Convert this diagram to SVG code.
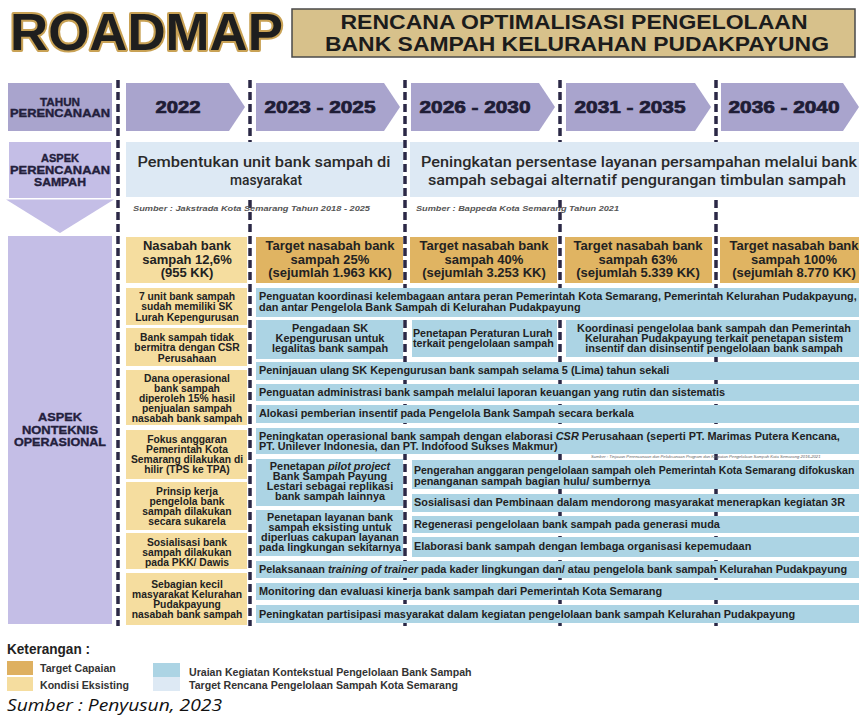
<svg xmlns="http://www.w3.org/2000/svg" width="859" height="724" viewBox="0 0 859 724">
<style>
.bt{font-family:"Liberation Sans",Arial,sans-serif;font-weight:700;fill:#222;font-size:10px}
.ys{font-family:"Liberation Sans",Arial,sans-serif;font-weight:700;fill:#222;font-size:10.3px;text-anchor:middle}
.lg{font-family:"Liberation Sans",Arial,sans-serif;font-weight:700;fill:#333;font-size:10.6px}
.mid{text-anchor:middle}
.hdr{font-family:"Liberation Sans",Arial,sans-serif;font-weight:700;fill:#23203c;stroke:#23203c;stroke-width:0.35;text-anchor:middle}
.yr{font-family:"Liberation Sans",Arial,sans-serif;font-weight:700;font-size:16px;fill:#1f1d36;stroke:#1f1d36;stroke-width:0.7;text-anchor:middle}
.r2{font-family:"Roboto","Liberation Sans",sans-serif;font-weight:500;font-size:15px;fill:#2a2a2a;text-anchor:middle}
.tg{font-family:"Liberation Sans",Arial,sans-serif;font-weight:700;font-size:13px;fill:#222;text-anchor:middle}
.src{font-family:"Liberation Sans",Arial,sans-serif;font-weight:700;font-style:italic;font-size:8px;fill:#555}
.dash{stroke:#2b2846;stroke-width:3.5;stroke-dasharray:8 4;fill:none}
.lav{fill:#a9a4cd}
.lav2{fill:#c4bee6}
.ye{fill:#f5dd9f}
.tan{fill:#e0b462}
.bl{fill:#acd4e4}
.lb{fill:#dde9f4}
</style>

<g id="title">
  <text x="10" y="50" font-family="Liberation Sans,Arial,sans-serif" font-weight="700" font-size="52" fill="#1e1e1e" stroke="#c9a255" stroke-width="4" stroke-linejoin="round" paint-order="stroke" textLength="273" lengthAdjust="spacingAndGlyphs">ROADMAP</text>
</g>
<g id="subtitle">
  <rect x="292" y="9" width="563" height="48" fill="#d7c18b" stroke="#4a4a4a" stroke-width="1.5"/>
  <text x="574" y="29" font-family="Liberation Sans,Arial,sans-serif" font-weight="700" font-size="20" fill="#1c1c1c" text-anchor="middle" textLength="467" lengthAdjust="spacingAndGlyphs">RENCANA OPTIMALISASI PENGELOLAAN</text>
  <text x="577" y="51" font-family="Liberation Sans,Arial,sans-serif" font-weight="700" font-size="20" fill="#1c1c1c" text-anchor="middle" textLength="504" lengthAdjust="spacingAndGlyphs">BANK SAMPAH KELURAHAN PUDAKPAYUNG</text>
</g>

<g id="connectors">
  <line class="dash" x1="118" y1="80" x2="118" y2="626"/>
  <line class="dash" x1="250" y1="80" x2="250" y2="626"/>
  <line class="dash" x1="405" y1="80" x2="405" y2="626"/>
  <line class="dash" x1="560" y1="80" x2="560" y2="626"/>
  <line class="dash" x1="716" y1="80" x2="716" y2="626"/>
</g>

<g id="tahun">
  <rect class="lav" x="8" y="83" width="104" height="48"/>
  <text class="hdr" x="60" y="105.5" font-size="10.5" textLength="40" lengthAdjust="spacingAndGlyphs">TAHUN</text>
  <text class="hdr" x="60" y="117" font-size="10.5" textLength="100" lengthAdjust="spacingAndGlyphs">PERENCANAAN</text>
</g>
<g id="y2022"><polygon class="lav" points="126,83 229,83 245,107 229,131 126,131"/><text class="yr" x="178" y="113" textLength="45" lengthAdjust="spacingAndGlyphs">2022</text></g>
<g id="y2023"><polygon class="lav" points="256,83 384,83 400,107 384,131 256,131"/><text class="yr" x="320" y="113" textLength="111" lengthAdjust="spacingAndGlyphs">2023 - 2025</text></g>
<g id="y2026"><polygon class="lav" points="411,83 539,83 555,107 539,131 411,131"/><text class="yr" x="475" y="113" textLength="111" lengthAdjust="spacingAndGlyphs">2026 - 2030</text></g>
<g id="y2031"><polygon class="lav" points="566,83 695,83 711,107 695,131 566,131"/><text class="yr" x="630" y="113" textLength="111" lengthAdjust="spacingAndGlyphs">2031 - 2035</text></g>
<g id="y2036"><polygon class="lav" points="721,83 843,83 859,107 843,131 721,131"/><text class="yr" x="784" y="113" textLength="111" lengthAdjust="spacingAndGlyphs">2036 - 2040</text></g>

<g id="aspek-perencanaan">
  <rect class="lav2" x="9" y="142" width="102" height="56"/>
  <polygon class="lav2" points="6,199.5 114,199.5 60,233"/>
  <text class="hdr" x="60" y="162" font-size="10.5" textLength="38" lengthAdjust="spacingAndGlyphs">ASPEK</text>
  <text class="hdr" x="60" y="174" font-size="10.5" textLength="100" lengthAdjust="spacingAndGlyphs">PERENCANAAN</text>
  <text class="hdr" x="60" y="185.5" font-size="10.5" textLength="52" lengthAdjust="spacingAndGlyphs">SAMPAH</text>
</g>
<g id="plan1">
  <rect class="lb" x="126" y="142" width="277" height="55"/>
  <text class="r2" x="264" y="167" textLength="253" lengthAdjust="spacingAndGlyphs">Pembentukan unit bank sampah di</text>
  <text class="r2" x="266" y="185" textLength="72" lengthAdjust="spacingAndGlyphs">masyarakat</text>
  <text class="src" x="133" y="211" textLength="237" lengthAdjust="spacingAndGlyphs">Sumber : Jakstrada Kota Semarang Tahun 2018 - 2025</text>
</g>
<g id="plan2">
  <rect class="lb" x="410" y="142" width="449" height="55"/>
  <text class="r2" x="639" y="167" textLength="436" lengthAdjust="spacingAndGlyphs">Peningkatan persentase layanan persampahan melalui bank</text>
  <text class="r2" x="637" y="185" textLength="418" lengthAdjust="spacingAndGlyphs">sampah sebagai alternatif pengurangan timbulan sampah</text>
  <text class="src" x="416" y="211" textLength="203" lengthAdjust="spacingAndGlyphs">Sumber : Bappeda Kota Semarang Tahun 2021</text>
</g>

<g id="aspek-nonteknis">
  <rect class="lav2" x="8" y="236" width="104" height="388"/>
  <text class="hdr" x="60" y="421" font-size="11.5" textLength="44" lengthAdjust="spacingAndGlyphs">ASPEK</text>
  <text class="hdr" x="60" y="433.5" font-size="11.5" textLength="76" lengthAdjust="spacingAndGlyphs">NONTEKNIS</text>
  <text class="hdr" x="60" y="446" font-size="11.5" textLength="92" lengthAdjust="spacingAndGlyphs">OPERASIONAL</text>
</g>

<g id="t2022"><rect class="ye" x="126" y="237" width="121" height="46"/>
  <text class="tg" x="187" y="249.5">Nasabah bank</text><text class="tg" x="187" y="263.5">sampah 12,6%</text><text class="tg" x="187" y="277">(955 KK)</text></g>
<g id="t2023"><rect class="tan" x="256" y="237" width="147" height="46"/>
  <text class="tg" x="330" y="249.5">Target nasabah bank</text><text class="tg" x="330" y="263.5">sampah 25%</text><text class="tg" x="330" y="277">(sejumlah 1.963 KK)</text></g>
<g id="t2026"><rect class="tan" x="410" y="237" width="147" height="46"/>
  <text class="tg" x="484" y="249.5">Target nasabah bank</text><text class="tg" x="484" y="263.5">sampah 40%</text><text class="tg" x="484" y="277">(sejumlah 3.253 KK)</text></g>
<g id="t2031"><rect class="tan" x="565" y="237" width="147" height="46"/>
  <text class="tg" x="638" y="249.5">Target nasabah bank</text><text class="tg" x="638" y="263.5">sampah 63%</text><text class="tg" x="638" y="277">(sejumlah 5.339 KK)</text></g>
<g id="t2036"><rect class="tan" x="720" y="237" width="139" height="46"/>
  <text class="tg" x="794" y="249.5">Target nasabah bank</text><text class="tg" x="794" y="263.5">sampah 100%</text><text class="tg" x="794" y="277">(sejumlah 8.770 KK)</text></g>

<g id="k1"><rect class="ye" x="126" y="288" width="121" height="37"/>
  <text class="ys" x="187" y="299.5">7 unit bank sampah</text><text class="ys" x="187" y="310">sudah memiliki SK</text><text class="ys" x="187" y="320.5">Lurah Kepengurusan</text></g>
<g id="k2"><rect class="ye" x="126" y="328" width="121" height="38"/>
  <text class="ys" x="187" y="340.5">Bank sampah tidak</text><text class="ys" x="187" y="351">bermitra dengan CSR</text><text class="ys" x="187" y="361.5">Perusahaan</text></g>
<g id="k3"><rect class="ye" x="126" y="370" width="121" height="55"/>
  <text class="ys" x="187" y="381.5">Dana operasional</text><text class="ys" x="187" y="391.5">bank sampah</text><text class="ys" x="187" y="401.5">diperoleh 15% hasil</text><text class="ys" x="187" y="411.5">penjualan sampah</text><text class="ys" x="187" y="421.5">nasabah bank sampah</text></g>
<g id="k4"><rect class="ye" x="126" y="430" width="121" height="49"/>
  <text class="ys" x="187" y="442.5">Fokus anggaran</text><text class="ys" x="187" y="452.5">Pemerintah Kota</text><text class="ys" x="187" y="462.5">Semarang dilakukan di</text><text class="ys" x="187" y="472.5">hilir (TPS ke TPA)</text></g>
<g id="k5"><rect class="ye" x="126" y="482" width="121" height="48"/>
  <text class="ys" x="187" y="494.5">Prinsip kerja</text><text class="ys" x="187" y="504.5">pengelola bank</text><text class="ys" x="187" y="514.5">sampah dilakukan</text><text class="ys" x="187" y="524.5">secara sukarela</text></g>
<g id="k6"><rect class="ye" x="126" y="533" width="121" height="36"/>
  <text class="ys" x="187" y="545.5">Sosialisasi bank</text><text class="ys" x="187" y="555.5">sampah dilakukan</text><text class="ys" x="187" y="565.5">pada PKK/ Dawis</text></g>
<g id="k7"><rect class="ye" x="126" y="573" width="121" height="52"/>
  <text class="ys" x="187" y="587.5">Sebagian kecil</text><text class="ys" x="187" y="597.5">masyarakat Kelurahan</text><text class="ys" x="187" y="607.5">Pudakpayung</text><text class="ys" x="187" y="617.5">nasabah bank sampah</text></g>

<g id="u1"><rect class="bl" x="256" y="288" width="603" height="29"/>
  <g transform="matrix(1.09 0 0 1 -23.31 0)">
  <text class="bt" x="259" y="300">Penguatan koordinasi kelembagaan antara peran Pemerintah Kota Semarang, Pemerintah Kelurahan Pudakpayung,</text>
  <text class="bt" x="259" y="311">dan antar Pengelola Bank Sampah di Kelurahan Pudakpayung</text></g></g>
<g id="u2"><rect class="bl" x="256" y="320" width="147" height="39"/>
  <g transform="matrix(1.09 0 0 1 -29.7 0)">
  <text class="bt mid" x="330" y="332">Pengadaan SK</text><text class="bt mid" x="330" y="342">Kepengurusan untuk</text><text class="bt mid" x="330" y="352">legalitas bank sampah</text></g></g>
<g id="u3"><rect class="bl" x="412" y="320" width="145" height="37"/>
  <g transform="matrix(1.07 0 0 1 -28.91 0)">
  <text class="bt" x="413" y="337">Penetapan Peraturan Lurah</text><text class="bt" x="413" y="347">terkait pengelolaan sampah</text></g></g>
<g id="u4"><rect class="bl" x="566" y="320" width="293" height="37"/>
  <g transform="matrix(1.09 0 0 1 -64.26 0)">
  <text class="bt mid" x="714" y="332">Koordinasi pengelolaa bank sampah dan Pemerintah</text><text class="bt mid" x="714" y="342">Kelurahan Pudakpayung terkait penetapan sistem</text><text class="bt mid" x="714" y="352">insentif dan disinsentif pengelolaan bank sampah</text></g></g>
<g id="u5"><rect class="bl" x="256" y="362" width="603" height="18"/>
  <g transform="matrix(1.09 0 0 1 -23.31 0)"><text class="bt" x="259" y="374.5">Peninjauan ulang SK Kepengurusan bank sampah selama 5 (Lima) tahun sekali</text></g></g>
<g id="u6"><rect class="bl" x="256" y="384" width="603" height="17"/>
  <g transform="matrix(1.09 0 0 1 -23.31 0)"><text class="bt" x="259" y="396">Penguatan administrasi bank sampah melalui laporan keuangan yang rutin dan sistematis</text></g></g>
<g id="u7"><rect class="bl" x="256" y="405" width="603" height="18"/>
  <g transform="matrix(1.09 0 0 1 -23.31 0)"><text class="bt" x="259" y="417.5">Alokasi pemberian insentif pada Pengelola Bank Sampah secara berkala</text></g></g>
<g id="u8"><rect class="bl" x="256" y="428" width="603" height="26"/>
  <g transform="matrix(1.09 0 0 1 -23.31 0)">
  <text class="bt" x="259" y="440.5">Peningkatan operasional bank sampah dengan elaborasi <tspan font-style="italic">CSR</tspan> Perusahaan (seperti PT. Marimas Putera Kencana,</text>
  <text class="bt" x="259" y="450.5">PT. Unilever Indonesia, dan PT. Indofood Sukses Makmur)</text></g>
  <text x="591" y="458.3" font-family="Liberation Sans,Arial,sans-serif" font-style="italic" font-size="4.2" fill="#666">Sumber : Tinjauan Perencanaan dan Pelaksanaan Program dan Kegiatan Pengelolaan Sampah Kota Semarang 2016-2021</text></g>
<g id="u9"><rect class="bl" x="256" y="459" width="147" height="47"/>
  <g transform="matrix(1.09 0 0 1 -29.7 0)">
  <text class="bt mid" x="330" y="470.5"><tspan>Penetapan </tspan><tspan font-style="italic">pilot project</tspan></text><text class="bt mid" x="330" y="480.5">Bank Sampah Payung</text><text class="bt mid" x="330" y="490.5">Lestari sebagai replikasi</text><text class="bt mid" x="330" y="500.5">bank sampah lainnya</text></g></g>
<g id="u10"><rect class="bl" x="256" y="510" width="147" height="46"/>
  <g transform="matrix(1.08 0 0 1 -26.4 0)">
  <text class="bt mid" x="330" y="521.5">Penetapan layanan bank</text><text class="bt mid" x="330" y="531.5">sampah eksisting untuk</text><text class="bt mid" x="330" y="541.5">diperluas cakupan layanan</text><text class="bt mid" x="330" y="551.5">pada lingkungan sekitarnya</text></g></g>
<g id="u11"><rect class="bl" x="412" y="460" width="447" height="29"/>
  <g transform="matrix(1.09 0 0 1 -37.26 0)">
  <text class="bt" x="414" y="474.5" textLength="404" lengthAdjust="spacingAndGlyphs">Pengerahan anggaran pengelolaan sampah oleh Pemerintah Kota Semarang difokuskan</text>
  <text class="bt" x="414" y="485.5">penanganan sampah bagian hulu/ sumbernya</text></g></g>
<g id="u12"><rect class="bl" x="412" y="494" width="447" height="18"/>
  <g transform="matrix(1.09 0 0 1 -37.26 0)"><text class="bt" x="414" y="506.5">Sosialisasi dan Pembinaan dalam mendorong masyarakat menerapkan kegiatan 3R</text></g></g>
<g id="u13"><rect class="bl" x="412" y="516" width="447" height="17"/>
  <g transform="matrix(1.09 0 0 1 -37.26 0)"><text class="bt" x="414" y="528.5">Regenerasi pengelolaan bank sampah pada generasi muda</text></g></g>
<g id="u14"><rect class="bl" x="412" y="537" width="447" height="20"/>
  <g transform="matrix(1.09 0 0 1 -37.26 0)"><text class="bt" x="414" y="550.5">Elaborasi bank sampah dengan lembaga organisasi kepemudaan</text></g></g>
<g id="u15"><rect class="bl" x="256" y="561" width="603" height="17"/>
  <g transform="matrix(1.09 0 0 1 -23.31 0)"><text class="bt" x="259" y="573.5">Pelaksanaan <tspan font-style="italic">training of trainer</tspan> pada kader lingkungan dan/ atau pengelola bank sampah Kelurahan Pudakpayung</text></g></g>
<g id="u16"><rect class="bl" x="256" y="583" width="603" height="17"/>
  <g transform="matrix(1.09 0 0 1 -23.31 0)"><text class="bt" x="259" y="595.5">Monitoring dan evaluasi kinerja bank sampah dari Pemerintah Kota Semarang</text></g></g>
<g id="u17"><rect class="bl" x="256" y="605" width="603" height="18"/>
  <g transform="matrix(1.09 0 0 1 -23.31 0)"><text class="bt" x="259" y="618">Peningkatan partisipasi masyarakat dalam kegiatan pengelolaan bank sampah Kelurahan Pudakpayung</text></g></g>

<g id="legend">
  <text x="7" y="654" font-family="Liberation Sans,Arial,sans-serif" font-weight="700" font-size="14" fill="#222" textLength="83" lengthAdjust="spacingAndGlyphs">Keterangan :</text>
  <rect x="7" y="661" width="26" height="14" fill="#deb060"/>
  <rect x="7" y="677" width="26" height="14" fill="#f5dd9f"/>
  <text class="lg" x="40" y="671.5">Target Capaian</text>
  <text class="lg" x="40" y="688.5">Kondisi Eksisting</text>
  <rect x="153" y="663" width="27" height="14" fill="#acd4e4"/>
  <rect x="153" y="677" width="27" height="14" fill="#dde9f4"/>
  <text class="lg" x="189" y="675.5">Uraian Kegiatan Kontekstual Pengelolaan Bank Sampah</text>
  <text class="lg" x="189" y="689">Target Rencana Pengelolaan Sampah Kota Semarang</text>
  <text x="7" y="711" font-family="Open Sans,Liberation Sans,sans-serif" font-style="italic" font-size="17" fill="#111" textLength="215" lengthAdjust="spacingAndGlyphs">Sumber : Penyusun, 2023</text>
</g>
</svg>
